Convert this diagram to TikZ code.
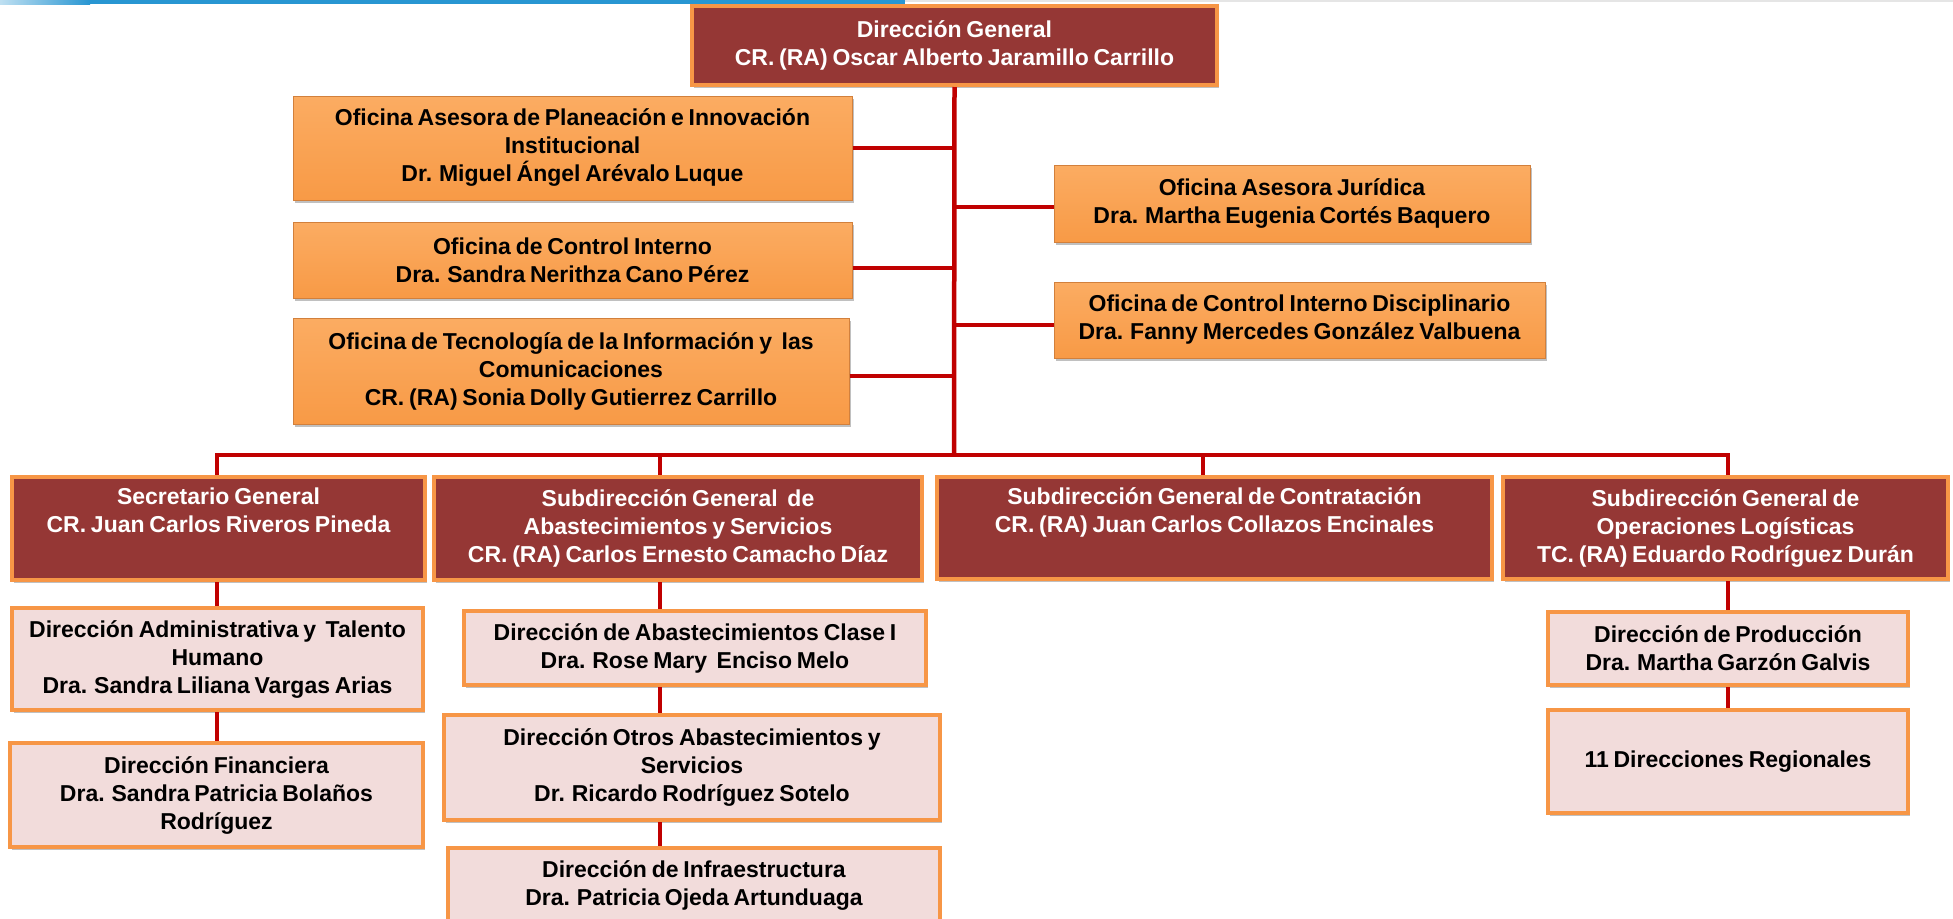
\documentclass[tikz,border=0pt]{standalone}
\usepackage{fontspec}
\setmainfont{Liberation Sans}[WordSpace=0.75]
\usetikzlibrary{shadows,calc}
\definecolor{dred}{RGB}{149,55,53}
\definecolor{orb}{RGB}{247,150,70}
\definecolor{ortop}{RGB}{251,172,98}
\definecolor{orbot}{RGB}{248,154,70}
\definecolor{pinkf}{RGB}{242,220,219}
\definecolor{connc}{RGB}{192,0,0}
\definecolor{hblue}{RGB}{40,150,210}
\begin{document}
\begin{tikzpicture}[x=1pt,y=-1pt,
  every node/.style={inner sep=0pt,align=center,font=\fontsize{23}{28}\selectfont\bfseries},
  shad/.style={drop shadow={shadow xshift=2pt,shadow yshift=-3pt,opacity=0.35,fill=black!70}},
  redbox/.style={shad,fill=dred,draw=orb,line width=4pt,text=white},
  orbox/.style={shad,top color=ortop,bottom color=orbot,draw=orb!85!black,line width=1pt,text=black},
  pinkbox/.style={shad,fill=pinkf,draw=orb,line width=4pt,text=black},
  conn/.style={draw=connc,line width=4.5pt}]
\useasboundingbox (0,0) rectangle (1953,918);
\fill[white] (0,0) rectangle (1953,918);
% header line
\fill[left color=hblue!30,right color=hblue] (0,0) rectangle (90,4);
\fill[hblue] (90,0) rectangle (905,4);
\fill[black!10] (905,0) rectangle (1953,2);

% connector junctions
\coordinate (bus) at (954,455);
\coordinate (l1) at (954,148);
\coordinate (l2) at (954,268);
\coordinate (l3) at (954,376);
\coordinate (r1) at (954,207);
\coordinate (r2) at (954,325);
\coordinate (cA) at (217,455);
\coordinate (cB) at (660,455);
\coordinate (cC) at (1203,455);
\coordinate (cD) at (1728,455);

% boxes
\node[redbox,minimum width=525pt,minimum height=79pt] (dg) at (954.5,45.5)
  {Dirección General\\CR. (RA) Oscar Alberto Jaramillo Carrillo};
\node[orbox,minimum width=559pt,minimum height=104pt] (pla) at (572.5,148)
  {Oficina Asesora de Planeación e Innovación\\Institucional\\Dr. Miguel Ángel Arévalo Luque};
\node[orbox,minimum width=559pt,minimum height=76pt] (ci) at (572.5,260)
  {Oficina de Control Interno\\Dra. Sandra Nerithza Cano Pérez};
\node[orbox,minimum width=556pt,minimum height=106pt] (tic) at (571,371)
  {Oficina de Tecnología de la Información y\ \ las\\Comunicaciones\\CR. (RA) Sonia Dolly Gutierrez Carrillo};
\node[orbox,minimum width=476pt,minimum height=77pt] (jur) at (1292,203.5)
  {Oficina Asesora Jurídica\\Dra. Martha Eugenia Cortés Baquero};
\node[orbox,minimum width=491pt,minimum height=76pt] (cid) at (1299.5,320)
  {Oficina de Control Interno Disciplinario\\Dra. Fanny Mercedes González Valbuena};

\node[redbox,minimum width=413pt,minimum height=103pt] (sg) at (218.5,528.5)
  {Secretario General\\CR. Juan Carlos Riveros Pineda\\\strut};
\node[redbox,minimum width=488pt,minimum height=103pt] (sga) at (678,528.5)
  {Subdirección General\ \ de\\Abastecimientos y Servicios\\CR. (RA) Carlos Ernesto Camacho Díaz};
\node[redbox,minimum width=555pt,minimum height=102pt] (sgc) at (1214.5,528)
  {Subdirección General de Contratación\\CR. (RA) Juan Carlos Collazos Encinales\\\strut};
\node[redbox,minimum width=445pt,minimum height=102pt] (sgo) at (1725.5,528)
  {Subdirección General de\\Operaciones Logísticas\\TC. (RA) Eduardo Rodríguez Durán};

\node[pinkbox,minimum width=411pt,minimum height=102pt] (dat) at (217.5,659)
  {Dirección Administrativa y\ \ Talento\\Humano\\Dra. Sandra Liliana Vargas Arias};
\node[pinkbox,minimum width=413pt,minimum height=104pt] (dfin) at (216.5,795)
  {Dirección Financiera\\Dra. Sandra Patricia Bolaños\\Rodríguez};
\node[pinkbox,minimum width=462pt,minimum height=74pt] (dc1) at (695,648)
  {Dirección de Abastecimientos Clase I\\Dra. Rose Mary\ \ Enciso Melo};
\node[pinkbox,minimum width=496pt,minimum height=105pt] (dotros) at (692,767.5)
  {Dirección Otros Abastecimientos y\\Servicios\\Dr. Ricardo Rodríguez Sotelo};
\node[pinkbox,minimum width=492pt,minimum height=74pt] (dinf) at (694,885)
  {Dirección de Infraestructura\\Dra. Patricia Ojeda Artunduaga};
\node[pinkbox,minimum width=360pt,minimum height=73pt] (dprod) at (1728,648.5)
  {Dirección de Producción\\Dra. Martha Garzón Galvis};
\node[pinkbox,minimum width=360pt,minimum height=103pt] (d11) at (1728,761.5)
  {11 Direcciones Regionales};

% connectors
\draw[conn] (dg.south) -- (bus);
\draw[conn] (l1 -| pla.east) -- (l1);
\draw[conn] (l2 -| ci.east) -- (l2);
\draw[conn] (l3 -| tic.east) -- (l3);
\draw[conn] (r1) -- (r1 -| jur.west);
\draw[conn] (r2) -- (r2 -| cid.west);
\draw[conn,line cap=rect] (cA) -- (cD);
\draw[conn] (cA) -- (cA |- sg.north);
\draw[conn] (cB) -- (cB |- sga.north);
\draw[conn] (cC) -- (cC |- sgc.north);
\draw[conn] (cD) -- (cD |- sgo.north);
\draw[conn] (cA |- sg.south) -- (cA |- dat.north);
\draw[conn] (cA |- dat.south) -- (cA |- dfin.north);
\draw[conn] (cB |- sga.south) -- (cB |- dc1.north);
\draw[conn] (cB |- dc1.south) -- (cB |- dotros.north);
\draw[conn] (cB |- dotros.south) -- (cB |- dinf.north);
\draw[conn] (cD |- sgo.south) -- (cD |- dprod.north);
\draw[conn] (cD |- dprod.south) -- (cD |- d11.north);
\end{tikzpicture}
\end{document}
